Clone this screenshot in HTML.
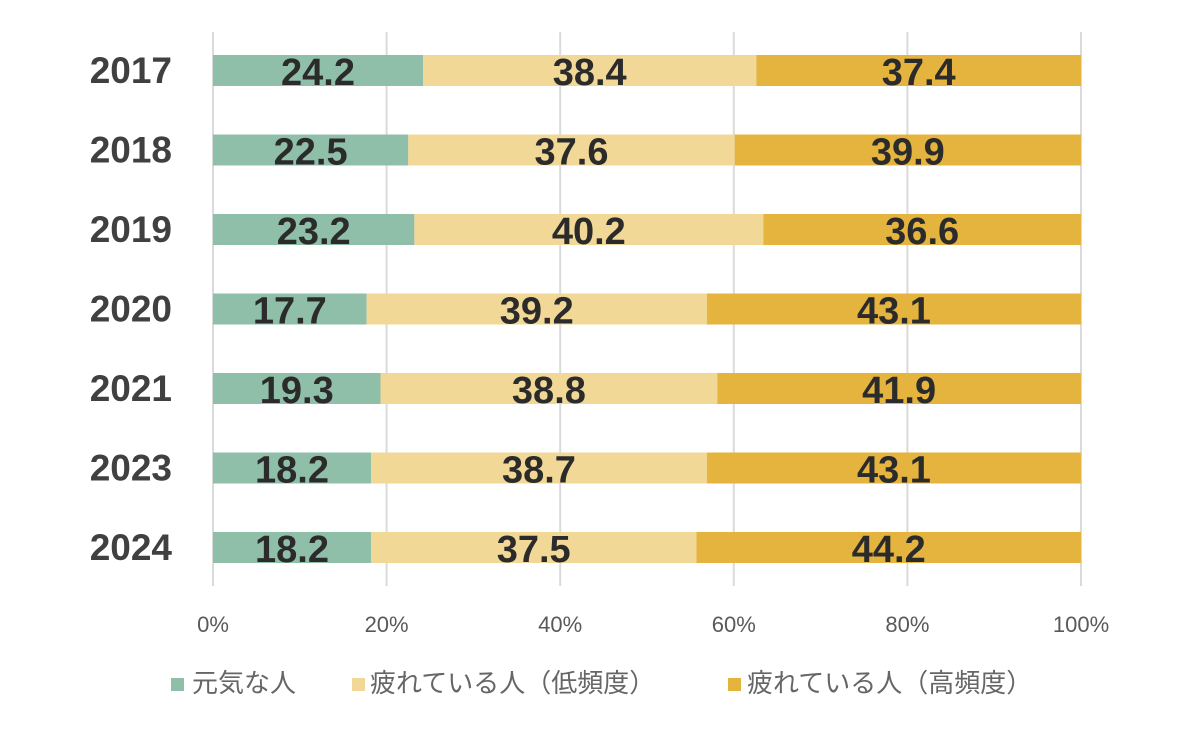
<!DOCTYPE html>
<html>
<head>
<meta charset="utf-8">
<style>
html,body{margin:0;padding:0;background:#fff;}
svg{display:block;}
.yr{font-family:"Liberation Sans",sans-serif;font-weight:bold;font-size:37px;fill:#404040;}
.lb{font-family:"Liberation Sans",sans-serif;font-weight:bold;font-size:38px;fill:#2b2b2b;}
.tk{font-family:"Liberation Sans",sans-serif;font-size:22px;fill:#595959;}
.lg{font-family:"Liberation Sans","Noto Sans CJK JP",sans-serif;font-size:26px;fill:#666;}
</style>
</head>
<body>
<svg width="1200" height="741" viewBox="0 0 1200 741" xmlns="http://www.w3.org/2000/svg">
<rect width="1200" height="741" fill="#fff"/>
<!-- gridlines -->
<g stroke="#dadada" stroke-width="2">
<line x1="213" y1="32" x2="213" y2="586"/>
<line x1="386.6" y1="32" x2="386.6" y2="586"/>
<line x1="560.2" y1="32" x2="560.2" y2="586"/>
<line x1="733.8" y1="32" x2="733.8" y2="586"/>
<line x1="907.4" y1="32" x2="907.4" y2="586"/>
<line x1="1081" y1="32" x2="1081" y2="586"/>
</g>
<!-- bars -->
<g>
<!-- 2017 -->
<rect x="213" y="55" width="210.06" height="31" fill="#8fbfa8"/>
<rect x="423.06" y="55" width="333.31" height="31" fill="#f2d896"/>
<rect x="756.37" y="55" width="324.63" height="31" fill="#e5b43e"/>
<!-- 2018 -->
<rect x="213" y="134.5" width="195.3" height="31" fill="#8fbfa8"/>
<rect x="408.3" y="134.5" width="326.37" height="31" fill="#f2d896"/>
<rect x="734.67" y="134.5" width="346.33" height="31" fill="#e5b43e"/>
<!-- 2019 -->
<rect x="213" y="214" width="201.38" height="31" fill="#8fbfa8"/>
<rect x="414.38" y="214" width="348.94" height="31" fill="#f2d896"/>
<rect x="763.32" y="214" width="317.68" height="31" fill="#e5b43e"/>
<!-- 2020 -->
<rect x="213" y="293.5" width="153.64" height="31" fill="#8fbfa8"/>
<rect x="366.64" y="293.5" width="340.26" height="31" fill="#f2d896"/>
<rect x="706.9" y="293.5" width="374.1" height="31" fill="#e5b43e"/>
<!-- 2021 -->
<rect x="213" y="373" width="167.52" height="31" fill="#8fbfa8"/>
<rect x="380.52" y="373" width="336.78" height="31" fill="#f2d896"/>
<rect x="717.3" y="373" width="363.7" height="31" fill="#e5b43e"/>
<!-- 2023 -->
<rect x="213" y="452.5" width="157.98" height="31" fill="#8fbfa8"/>
<rect x="370.98" y="452.5" width="335.92" height="31" fill="#f2d896"/>
<rect x="706.9" y="452.5" width="374.1" height="31" fill="#e5b43e"/>
<!-- 2024 -->
<rect x="213" y="532" width="157.98" height="31" fill="#8fbfa8"/>
<rect x="370.98" y="532" width="325.5" height="31" fill="#f2d896"/>
<rect x="696.48" y="532" width="384.52" height="31" fill="#e5b43e"/>
</g>
<!-- year labels -->
<g class="yr" text-anchor="end">
<text x="172" y="83">2017</text>
<text x="172" y="162.5">2018</text>
<text x="172" y="242">2019</text>
<text x="172" y="321.5">2020</text>
<text x="172" y="401">2021</text>
<text x="172" y="480.5">2023</text>
<text x="172" y="560">2024</text>
</g>
<!-- data labels -->
<g class="lb" text-anchor="middle">
<text x="318.03" y="85">24.2</text>
<text x="589.72" y="85">38.4</text>
<text x="918.69" y="85">37.4</text>
<text x="310.65" y="164.5">22.5</text>
<text x="571.49" y="164.5">37.6</text>
<text x="907.84" y="164.5">39.9</text>
<text x="313.69" y="244">23.2</text>
<text x="588.85" y="244">40.2</text>
<text x="922.16" y="244">36.6</text>
<text x="289.82" y="323.5">17.7</text>
<text x="536.77" y="323.5">39.2</text>
<text x="893.95" y="323.5">43.1</text>
<text x="296.76" y="403">19.3</text>
<text x="548.91" y="403">38.8</text>
<text x="899.15" y="403">41.9</text>
<text x="291.99" y="482.5">18.2</text>
<text x="538.94" y="482.5">38.7</text>
<text x="893.95" y="482.5">43.1</text>
<text x="291.99" y="562">18.2</text>
<text x="533.73" y="562">37.5</text>
<text x="888.74" y="562">44.2</text>
</g>
<!-- tick labels -->
<g class="tk" text-anchor="middle">
<text x="213" y="632">0%</text>
<text x="386.6" y="632">20%</text>
<text x="560.2" y="632">40%</text>
<text x="733.8" y="632">60%</text>
<text x="907.4" y="632">80%</text>
<text x="1081" y="632">100%</text>
</g>
<!-- legend -->
<rect x="171" y="678" width="13" height="13" fill="#8fbfa8"/>
<text class="lg" x="192" y="692">元気な人</text>
<rect x="352" y="678" width="13" height="13" fill="#f2d896"/>
<text class="lg" x="370" y="692">疲れている人（低頻度）</text>
<rect x="728" y="678" width="13" height="13" fill="#e5b43e"/>
<text class="lg" x="747" y="692">疲れている人（高頻度）</text>
</svg>
</body>
</html>
